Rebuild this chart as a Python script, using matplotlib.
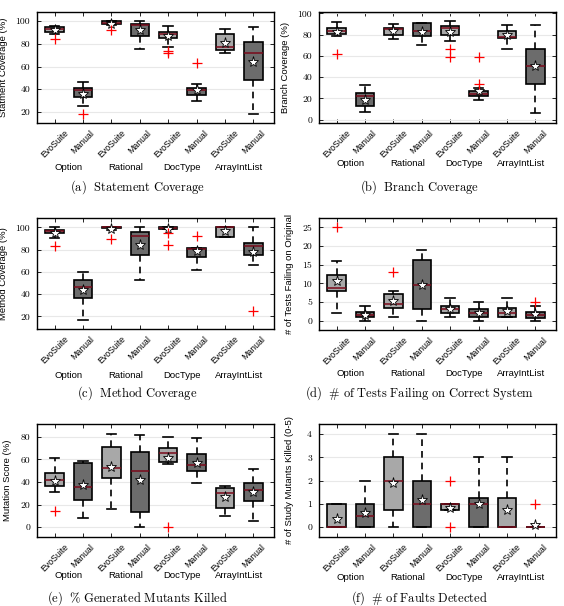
import matplotlib
matplotlib.use("Agg")
import matplotlib.pyplot as plt
import matplotlib.transforms as mtransforms

plt.rcParams['mathtext.fontset'] = 'cm'
plt.rcParams['font.family'] = ['Liberation Sans', 'DejaVu Sans']

# ---------------- data ----------------
groups = ["Option", "Rational", "DocType", "ArrayIntList"]
tools = ["EvoSuite", "Manual"]
tick_labels = ["EvoSuite", "Manual"] * 4

# (a) Statement coverage: q1, median, q3, whisker low, whisker high, mean, outliers
stmt_q1 = [90.6, 33.2, 97.0, 87.0, 84.7, 35.3, 74.4, 48.0]
stmt_med = [93.0, 39.0, 98.5, 96.5, 89.0, 39.0, 76.8, 72.0]
stmt_q3 = [95.0, 41.5, 100.0, 97.4, 90.6, 41.5, 88.2, 82.0]
stmt_lo = [88.2, 25.6, 96.5, 75.6, 77.0, 29.7, 71.5, 18.0]
stmt_hi = [95.6, 46.2, 100.0, 100.0, 95.3, 45.0, 93.0, 94.4]
stmt_mean = [92.0, 36.0, 97.0, 91.8, 86.8, 39.0, 80.3, 64.0]
stmt_out = [[84.1], [18.5], [91.8], [], [73.5, 71.5], [63.5], [], []]

# (b) Branch coverage
br_q1 = [80.3, 12.5, 80.0, 79.0, 79.4, 22.2, 76.9, 33.8]
br_med = [83.4, 22.0, 85.3, 83.4, 86.0, 24.4, 77.8, 50.3]
br_q3 = [86.6, 24.7, 86.0, 90.6, 88.4, 26.9, 83.8, 66.9]
br_lo = [79.0, 7.2, 75.6, 70.6, 73.8, 19.0, 66.9, 6.0]
br_hi = [91.9, 32.8, 90.0, 90.6, 92.8, 29.7, 89.4, 89.4]
br_mean = [82.8, 18.8, 83.8, 82.5, 82.2, 26.9, 80.0, 50.3]
br_out = [[61.9], [], [], [], [66.6, 59.4], [58.8, 33.8], [], []]

# (c) Method coverage
me_q1 = [94.6, 36.8, 99.4, 74.9, 98.5, 73.6, 91.6, 74.9]
me_med = [96.4, 46.4, 100.0, 91.9, 99.6, 80.5, 100.0, 83.0]
me_q3 = [97.9, 53.0, 100.0, 96.1, 100.0, 81.0, 100.0, 85.6]
me_lo = [90.4, 16.5, 98.0, 52.7, 98.5, 61.4, 91.6, 66.5]
me_hi = [100.0, 59.6, 100.0, 100.0, 100.0, 81.0, 100.0, 100.0]
me_mean = [95.0, 43.4, 98.8, 84.1, 98.3, 78.4, 96.4, 77.8]
me_out = [[83.5], [], [89.5], [], [95.2, 84.4], [92.0], [], [25.2]]

# (d) Tests failing on original
tf_q1 = [7.9, 0.9, 3.5, 3.0, 2.0, 1.0, 1.1, 0.8]
tf_med = [8.7, 1.5, 4.4, 9.6, 3.1, 2.0, 2.1, 1.5]
tf_q3 = [12.2, 2.2, 7.1, 16.2, 3.9, 3.0, 3.3, 2.3]
tf_lo = [2.0, 0.0, 1.0, 0.0, 1.0, 0.0, 1.0, 0.0]
tf_hi = [16.0, 4.0, 8.0, 19.0, 6.0, 5.0, 6.0, 4.0]
tf_mean = [10.5, 1.5, 5.2, 9.5, 3.0, 2.0, 2.6, 1.7]
tf_out = [[25.0], [], [13.0], [], [], [], [], [5.0]]

# (e) Mutation score
mu_q1 = [36.7, 24.0, 43.9, 13.3, 58.0, 49.5, 16.9, 22.8]
mu_med = [41.8, 35.6, 52.1, 49.8, 65.5, 54.8, 29.9, 32.9]
mu_q3 = [47.7, 56.6, 71.4, 66.7, 69.9, 64.6, 35.0, 38.8]
mu_lo = [31.1, 8.6, 16.0, 0.0, 55.7, 39.1, 10.4, 5.6]
mu_hi = [61.6, 59.0, 82.4, 81.5, 79.4, 78.5, 36.4, 51.6]
mu_mean = [40.9, 37.3, 53.3, 41.8, 61.0, 56.6, 26.7, 31.1]
mu_out = [[14.8], [], [], [], [0.0], [], [], []]

# (f) Study mutants killed
fd_q1 = [0.0, 0.0, 0.75, 0.0, 0.75, 0.0, 0.0, 0.0]
fd_med = [0.0, 0.5, 2.0, 1.0, 1.0, 1.0, 0.0, 0.0]
fd_q3 = [1.0, 1.0, 3.0, 2.0, 1.0, 1.25, 1.25, 0.0]
fd_lo = [0.0, 0.0, 0.0, 0.0, 0.75, 0.0, 0.0, 0.0]
fd_hi = [1.0, 2.0, 4.0, 4.0, 1.0, 3.0, 3.0, 0.0]
fd_mean = [0.35, 0.6, 1.9, 1.17, 0.83, 1.0, 0.75, 0.08]
fd_out = [[], [], [], [], [2.0, 0.0], [], [], [1.0]]

panels = [
    dict(q1=stmt_q1, med=stmt_med, q3=stmt_q3, lo=stmt_lo, hi=stmt_hi, mean=stmt_mean, out=stmt_out,
         ylabel="Statment Coverage (%)", yticks=[20, 40, 60, 80, 100], ylim=(10.3, 108),
         caption=r"$\mathrm{(a)\ \ Statement\ Coverage}$",
         rect=(37, 12, 274, 123), grp_off=44, cap_y=187, ylab_x=8),
    dict(q1=br_q1, med=br_med, q3=br_q3, lo=br_lo, hi=br_hi, mean=br_mean, out=br_out,
         ylabel="Branch Coverage (%)", yticks=[0, 20, 40, 60, 80, 100], ylim=(-3.1, 101.3),
         caption=r"$\mathrm{(b)\ \ Branch\ Coverage}$",
         rect=(319, 12, 556, 123), grp_off=40, cap_y=187, ylab_x=290),
    dict(q1=me_q1, med=me_med, q3=me_q3, lo=me_lo, hi=me_hi, mean=me_mean, out=me_out,
         ylabel="Method Coverage (%)", yticks=[20, 40, 60, 80, 100], ylim=(8.6, 108.4),
         caption=r"$\mathrm{(c)\ \ Method\ Coverage}$",
         rect=(37, 218, 274, 329), grp_off=46, cap_y=393, ylab_x=8),
    dict(q1=tf_q1, med=tf_med, q3=tf_q3, lo=tf_lo, hi=tf_hi, mean=tf_mean, out=tf_out,
         ylabel="# of Tests Failing on Original", yticks=[0, 5, 10, 15, 20, 25], ylim=(-2.5, 27.5),
         caption=r"$\mathrm{(d)\ \ \#\ of\ Tests\ Failing\ on\ Correct\ System}$",
         rect=(319, 218, 556, 330), grp_off=43, cap_y=393, ylab_x=294),
    dict(q1=mu_q1, med=mu_med, q3=mu_q3, lo=mu_lo, hi=mu_hi, mean=mu_mean, out=mu_out,
         ylabel="Mutation Score (%)", yticks=[0, 20, 40, 60, 80], ylim=(-8.6, 91.3),
         caption=r"$\mathrm{(e)\ \ \%\ Generated\ Mutants\ Killed}$",
         rect=(37, 424, 274, 537), grp_off=39, cap_y=598, ylab_x=12),
    dict(q1=fd_q1, med=fd_med, q3=fd_q3, lo=fd_lo, hi=fd_hi, mean=fd_mean, out=fd_out,
         ylabel="# of Study Mutants Killed (0-5)", yticks=[0, 1, 2, 3, 4], ylim=(-0.42, 4.43),
         caption=r"$\mathrm{(f)\ \ \#\ of\ Faults\ Detected}$",
         rect=(319, 424, 556, 537), grp_off=40, cap_y=598, ylab_x=294),
]

W, H = 564, 606
fig = plt.figure(figsize=(W / 100, H / 100), dpi=100)
colors = ["#a8a8a8", "#6c6c6c"]
positions = list(range(1, 9))

for p in panels:
    l, t, r, b = p["rect"]
    ax = fig.add_axes([l / W, 1 - b / H, (r - l) / W, (b - t) / H])
    stats = []
    for i in range(8):
        stats.append(dict(q1=p["q1"][i], med=p["med"][i], q3=p["q3"][i],
                          whislo=p["lo"][i], whishi=p["hi"][i], mean=p["mean"][i],
                          fliers=p["out"][i]))
    bp = ax.bxp(stats, positions=positions, widths=0.65, patch_artist=True,
                showmeans=True, showfliers=True, capwidths=0.33,
                boxprops=dict(edgecolor="black", linewidth=1.2),
                whiskerprops=dict(color="black", linewidth=1.2, linestyle=(0, (4, 3))),
                capprops=dict(color="black", linewidth=1.2),
                medianprops=dict(color="#7a0a1a", linewidth=1.1),
                meanprops=dict(marker="*", markerfacecolor="white", markeredgecolor="black",
                               markersize=8, markeredgewidth=0.6),
                flierprops=dict(marker="+", markeredgecolor="red", markersize=7,
                                markeredgewidth=0.9))
    for i, box in enumerate(bp["boxes"]):
        box.set_facecolor(colors[i % 2])
    for m in bp["means"] + bp["fliers"]:
        m.set_zorder(5)

    ax.set_xlim(0.38, 8.73)
    ax.set_ylim(*p["ylim"])
    ax.set_yticks(p["yticks"])
    ax.set_yticklabels([str(v) for v in p["yticks"]], fontfamily="cmr10", fontsize=7)
    ax.yaxis.grid(True, color="#e8e8e8", linewidth=0.8)
    ax.set_axisbelow(True)
    ax.tick_params(axis="both", direction="in", top=True, right=True, length=3, width=0.6)
    ax.tick_params(axis="y", pad=5)
    ax.set_xticks(positions)
    ax.set_xticklabels(tick_labels, rotation=45, ha="center", va="top", fontsize=6.3)
    ax.tick_params(axis="x", pad=4)
    for s in ax.spines.values():
        s.set_linewidth(1.0)
    ax.set_ylabel(p["ylabel"], fontsize=6.8)
    ax.yaxis.set_label_coords((p["ylab_x"] - l) / (r - l), 0.5)

    trans = mtransforms.blended_transform_factory(ax.transData, ax.transAxes)
    for gi, g in enumerate(groups):
        ax.annotate(g, xy=(2 * gi + 1.5, 0), xycoords=trans,
                    xytext=(0, -p["grp_off"] * 0.72), textcoords="offset points",
                    ha="center", va="center", fontsize=6.8)

    fig.text(((l + r) / 2 - 18) / W, 1 - p["cap_y"] / H, p["caption"],
             ha="center", va="center", fontsize=9)

fig.savefig("out.png", dpi=100)
